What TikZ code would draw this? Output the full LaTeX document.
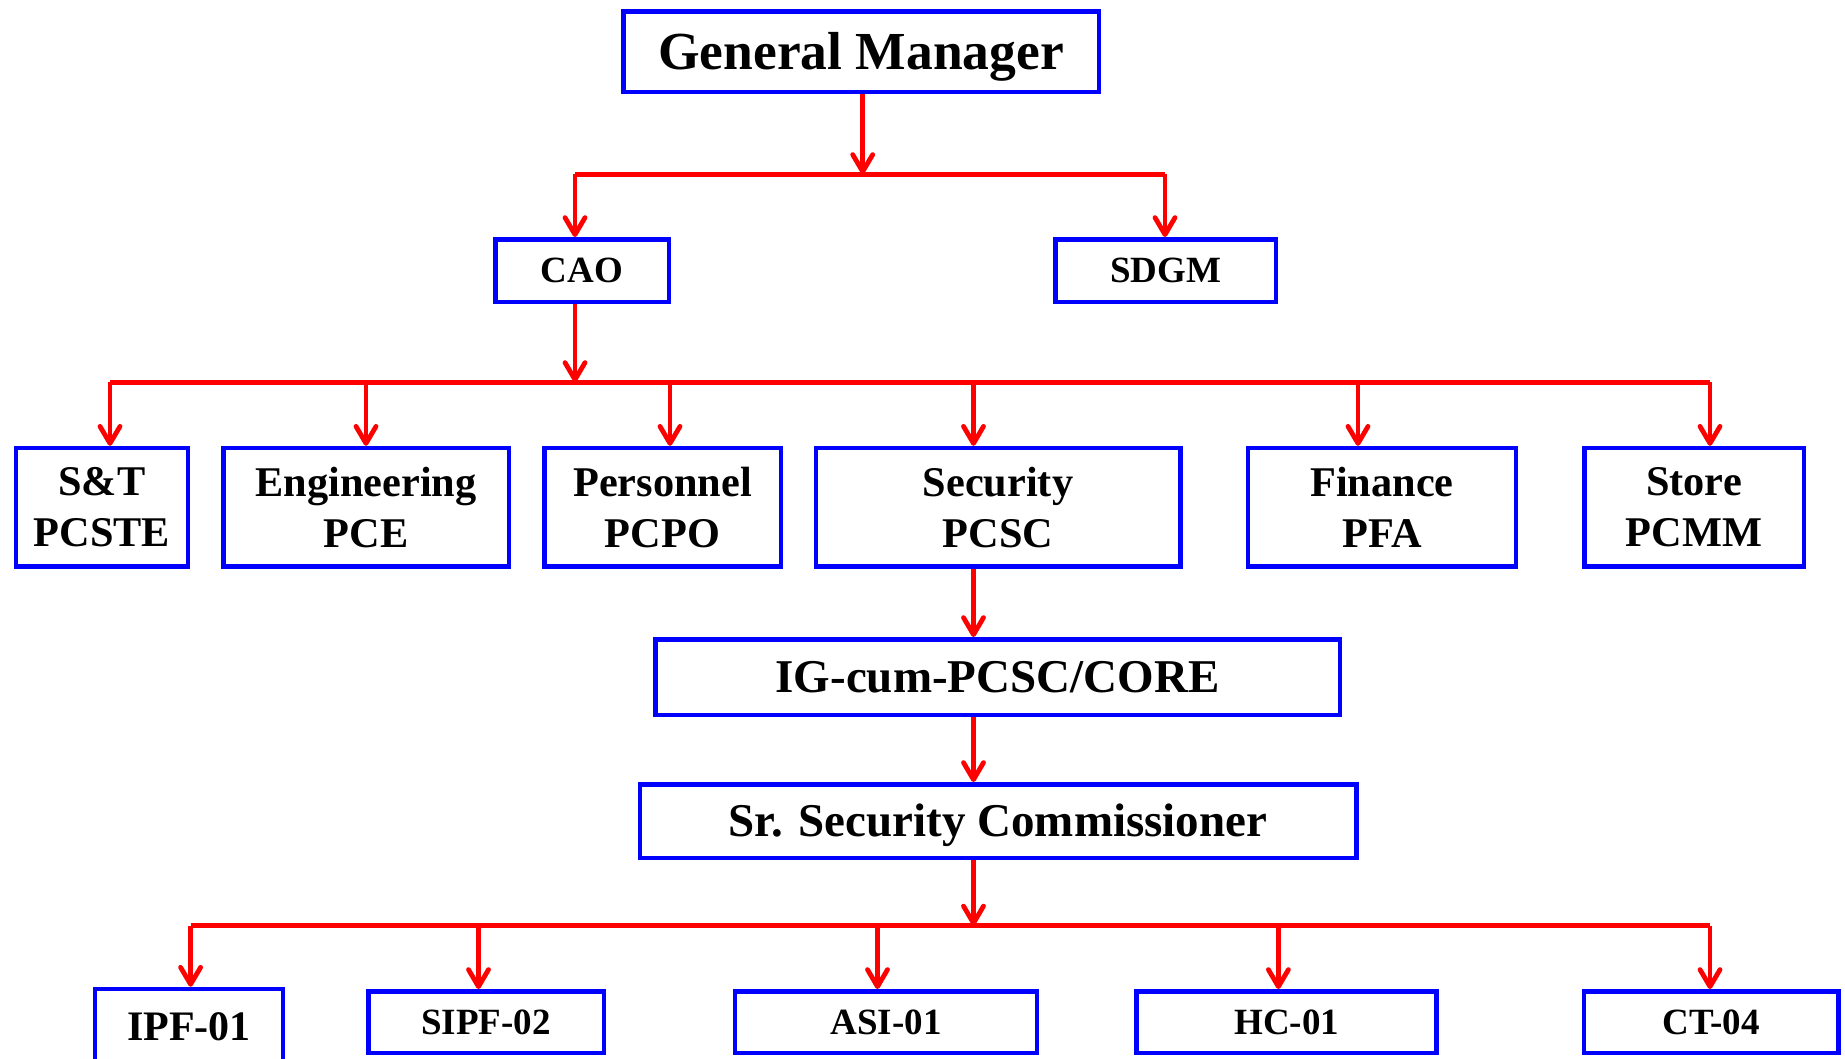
\documentclass[tikz,border=0pt]{standalone}
\usepackage{fontspec}
\setmainfont{Liberation Serif}
\usetikzlibrary{arrows.meta}
\begin{document}
\begin{tikzpicture}[x=1pt,y=-1pt,
  box/.style={draw=blue, line width=4.5pt, inner sep=0pt, align=center, text=black},
  capc/.style={text height=#1, text depth=0pt},
  fgm/.style={font=\bfseries\fontsize{53.5}{60}\selectfont, capc=35.4pt},
  fmid/.style={font=\bfseries\fontsize{37}{42}\selectfont, capc=24.4pt},
  frow/.style={font=\bfseries\fontsize{42.3}{51}\selectfont},
  fbig/.style={font=\bfseries\fontsize{47}{52}\selectfont, capc=31pt},
  fbot/.style={font=\bfseries\fontsize{37}{42}\selectfont, capc=24.4pt},
  fipf/.style={font=\bfseries\fontsize{42}{47}\selectfont, capc=27.7pt},
  bus/.style={draw=red, line width=5pt},
  arr/.style={draw=red, line width=4.8pt, -{Straight Barb[length=17pt,width=20pt,round]}}
]
\fill[white] (0,0) rectangle (1845,1058);
\useasboundingbox (0,0) rectangle (1845,1058);

% level 1
\node[box,fgm,minimum width=475.5pt,minimum height=80.5pt] (gm) at (861,51.5) {General Manager};
% level 2
\node[box,fmid,minimum width=173.5pt,minimum height=62.5pt] (cao) at (582,270.5) {CAO};
\node[box,fmid,minimum width=220.5pt,minimum height=62.5pt] (sdgm) at (1165.5,270.5) {SDGM};
% level 3
\node[box,frow,minimum width=172pt,minimum height=118.5pt] (st) at (101.8,507.3) {S\&T\\PCSTE};
\node[box,frow,minimum width=285.5pt,minimum height=118.5pt] (eng) at (366,507.3) {Engineering\\PCE};
\node[box,frow,minimum width=236.5pt,minimum height=118.5pt] (per) at (662.5,507.3) {Personnel\\PCPO};
\node[box,frow,minimum width=364.5pt,minimum height=118.5pt] (sec) at (998,507.3) {Security\\PCSC};
\node[box,frow,minimum width=268.2pt,minimum height=118.5pt] (fin) at (1382,507.3) {Finance\\PFA};
\node[box,frow,minimum width=219.5pt,minimum height=118.5pt] (sto) at (1694,507.3) {Store\\PCMM};
% security chain
\node[box,fbig,minimum width=684.5pt,minimum height=75.5pt] (ig) at (997.5,677) {IG-cum-PCSC/CORE};
\node[box,fbig,minimum width=716.5pt,minimum height=73.5pt] (ssc) at (998,821) {Sr. Security Commissioner};
% bottom row
\node[box,fipf,minimum width=188pt,minimum height=76pt] (ipf) at (189,1027) {IPF-01};
\node[box,fbot,minimum width=235.5pt,minimum height=61.5pt] (sipf) at (486,1022) {SIPF-02};
\node[box,fbot,minimum width=302pt,minimum height=61.5pt] (asi) at (886,1022) {ASI-01};
\node[box,fbot,minimum width=300pt,minimum height=61.5pt] (hc) at (1286.7,1022) {HC-01};
\node[box,fbot,minimum width=254.5pt,minimum height=61.5pt] (ct) at (1711,1022) {CT-04};

% bus 1
\coordinate (a1) at (575,174);
\coordinate (a2) at (1165,174);
\coordinate (ag) at (862.7,174);
\draw[bus] (a1) -- (a2);
\draw[arr] (ag |- gm.south) -- (ag);
\draw[arr] (a1) -- (a1 |- cao.north);
\draw[arr] (a2) -- (a2 |- sdgm.north);

% bus 2
\coordinate (c0) at (575,382);
\coordinate (t1) at (110,382);
\coordinate (t2) at (366,382);
\coordinate (t3) at (670,382);
\coordinate (t4) at (973.5,382);
\coordinate (t5) at (1358,382);
\coordinate (t6) at (1710,382);
\draw[bus] (t1) -- (t6);
\draw[arr] (c0 |- cao.south) -- (c0);
\draw[arr] (t1) -- (t1 |- st.north);
\draw[arr] (t2) -- (t2 |- eng.north);
\draw[arr] (t3) -- (t3 |- per.north);
\draw[arr] (t4) -- (t4 |- sec.north);
\draw[arr] (t5) -- (t5 |- fin.north);
\draw[arr] (t6) -- (t6 |- sto.north);

% security chain
\draw[arr] (t4 |- sec.south) -- (t4 |- ig.north);
\draw[arr] (t4 |- ig.south) -- (t4 |- ssc.north);

% bus 3
\coordinate (s0) at (973.5,925.5);
\coordinate (u1) at (190.6,925.5);
\coordinate (u2) at (478.5,925.5);
\coordinate (u3) at (877.5,925.5);
\coordinate (u4) at (1278.4,925.5);
\coordinate (u5) at (1710,925.5);
\draw[bus] (u1) -- (u5);
\draw[arr] (s0 |- ssc.south) -- (s0);
\draw[arr] (u1) -- (u1 |- ipf.north);
\draw[arr] (u2) -- (u2 |- sipf.north);
\draw[arr] (u3) -- (u3 |- asi.north);
\draw[arr] (u4) -- (u4 |- hc.north);
\draw[arr] (u5) -- (u5 |- ct.north);
\end{tikzpicture}
\end{document}
